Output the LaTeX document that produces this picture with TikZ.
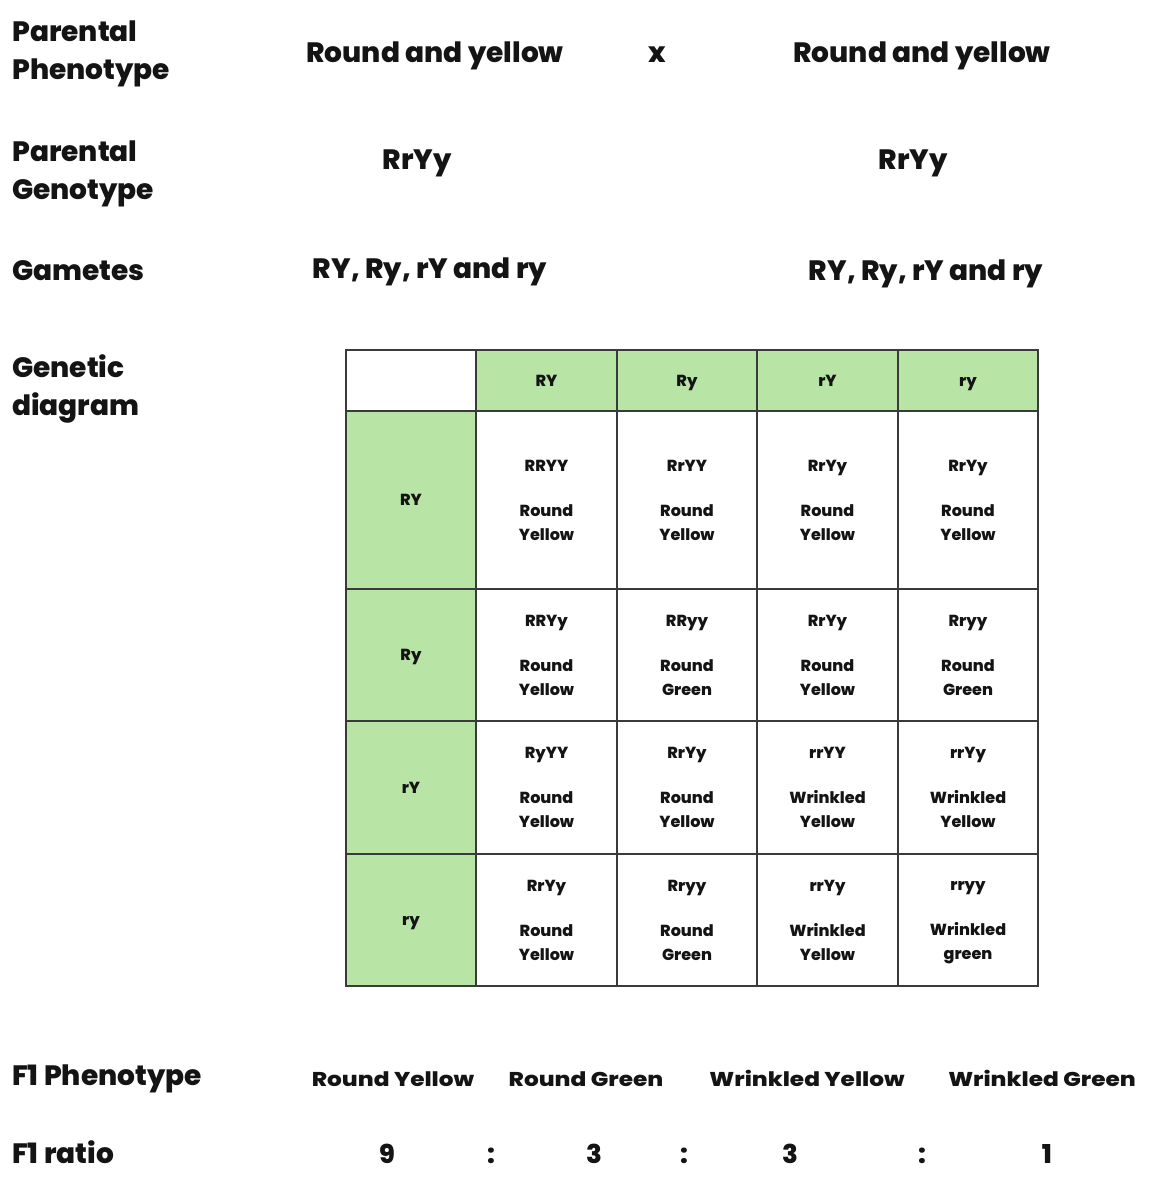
\documentclass[tikz,border=0pt]{standalone}
\usepackage{fontspec}
\setmainfont{Poppins}[BoldFont={Poppins ExtraBold}]
\definecolor{gcell}{HTML}{B8E5A5}
\definecolor{gline}{HTML}{3A3A3A}
\definecolor{ink}{HTML}{141414}
\begin{document}
\begin{tikzpicture}[x=1pt,y=-1pt,
  big/.style={font=\fontsize{28}{38}\selectfont\bfseries, inner sep=0pt, text=ink},
  lbl/.style={big, anchor=base west},
  val/.style={big, anchor=base},
  cell/.style={draw=gline, line width=2.2pt, inner sep=0pt, align=center, text=ink,
    font=\fontsize{16}{24}\selectfont\bfseries, text depth=0pt,
    execute at begin node={\vphantom{R}}},
  hcell/.style={cell, fill=gcell},
  f1/.style={font=\fontsize{20}{24}\selectfont\bfseries, inner sep=0pt, xscale=1.16, anchor=base, text=ink},
  rat/.style={font=\fontsize{26}{30}\selectfont\bfseries, inner sep=0pt, anchor=base, text=ink}
]
\useasboundingbox (0,0) rectangle (1156,1200);
% left labels
\node[lbl] (lpp1) at (12,41) {Parental};
\node[lbl] (lpp2) at (12,79) {Phenotype};
\node[lbl] (lpg1) at (12,161) {Parental};
\node[lbl] (lpg2) at (12,199) {Genotype};
\node[lbl] (lgam) at (12,280) {Gametes};
\node[lbl] (lgen1) at (12,377) {Genetic};
\node[lbl] (lgen2) at (12,415) {diagram};
\node[lbl] (lf1p) at (12,1085) {F1 Phenotype};
\node[lbl] (lf1r) at (12,1163) {F1 ratio};
% parents
\node[val] (p1) at (435,62) {Round and yellow};
\node[val] (px) at (657,62) {x};
\node[val] (p2) at (922,62) {Round and yellow};
\node[val] (g1) at (417,169) {RrYy};
\node[val] (g2) at (913,169) {RrYy};
\node[val] (m1) at (430,278) {RY, Ry, rY and ry};
\node[val] (m2) at (926,280) {RY, Ry, rY and ry};
% header row
\node[cell, minimum width=130, minimum height=61] (h00) at (411,380.5) {};
\node[hcell, minimum width=141, minimum height=61] (h01) at (546.5,380.5) {RY};
\node[hcell, minimum width=140, minimum height=61] (h02) at (687,380.5) {Ry};
\node[hcell, minimum width=141, minimum height=61] (h03) at (827.5,380.5) {rY};
\node[hcell, minimum width=140, minimum height=61] (h04) at (968,380.5) {ry};
% row 1
\node[hcell, minimum width=130, minimum height=178] (r1) at (411,500) {RY};
\node[cell, minimum width=141, minimum height=178] (c11) at (546.5,500) {RRYY\\[21pt]Round\\Yellow};
\node[cell, minimum width=140, minimum height=178] (c12) at (687,500) {RrYY\\[21pt]Round\\Yellow};
\node[cell, minimum width=141, minimum height=178] (c13) at (827.5,500) {RrYy\\[21pt]Round\\Yellow};
\node[cell, minimum width=140, minimum height=178] (c14) at (968,500) {RrYy\\[21pt]Round\\Yellow};
% row 2
\node[hcell, minimum width=130, minimum height=132] (r2) at (411,655) {Ry};
\node[cell, minimum width=141, minimum height=132] (c21) at (546.5,655) {RRYy\\[21pt]Round\\Yellow};
\node[cell, minimum width=140, minimum height=132] (c22) at (687,655) {RRyy\\[21pt]Round\\Green};
\node[cell, minimum width=141, minimum height=132] (c23) at (827.5,655) {RrYy\\[21pt]Round\\Yellow};
\node[cell, minimum width=140, minimum height=132] (c24) at (968,655) {Rryy\\[21pt]Round\\Green};
% row 3
\node[hcell, minimum width=130, minimum height=133] (r3) at (411,787.5) {rY};
\node[cell, minimum width=141, minimum height=133] (c31) at (546.5,787.5) {RyYY\\[21pt]Round\\Yellow};
\node[cell, minimum width=140, minimum height=133] (c32) at (687,787.5) {RrYy\\[21pt]Round\\Yellow};
\node[cell, minimum width=141, minimum height=133] (c33) at (827.5,787.5) {rrYY\\[21pt]Wrinkled\\Yellow};
\node[cell, minimum width=140, minimum height=133] (c34) at (968,787.5) {rrYy\\[21pt]Wrinkled\\Yellow};
% row 4
\node[hcell, minimum width=130, minimum height=132] (r4) at (411,920) {ry};
\node[cell, minimum width=141, minimum height=132] (c41) at (546.5,920) {RrYy\\[21pt]Round\\Yellow};
\node[cell, minimum width=140, minimum height=132] (c42) at (687,920) {Rryy\\[21pt]Round\\Green};
\node[cell, minimum width=141, minimum height=132] (c43) at (827.5,920) {rrYy\\[21pt]Wrinkled\\Yellow};
\node[cell, minimum width=140, minimum height=132] (c44) at (968,920) {rryy\\[21pt]Wrinkled\\green};
% F1
\node[f1] (f1a) at (393,1086) {Round Yellow};
\node[f1] (f1b) at (586,1086) {Round Green};
\node[f1] (f1c) at (807,1086) {Wrinkled Yellow};
\node[f1] (f1d) at (1042,1086) {Wrinkled Green};
\node[rat] (ra) at (387,1163) {9};
\node[rat] (rc1) at (491,1163) {:};
\node[rat] (rb) at (594,1163) {3};
\node[rat] (rc2) at (684,1163) {:};
\node[rat] (rc) at (790,1163) {3};
\node[rat] (rc3) at (922,1163) {:};
\node[rat] (rd) at (1047,1163) {1};
\end{tikzpicture}
\end{document}
